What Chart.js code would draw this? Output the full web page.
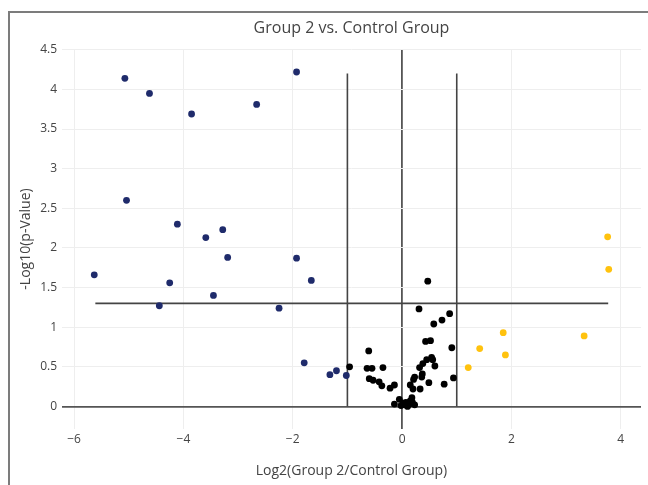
<!DOCTYPE html>
<html>
<head>
<meta charset="utf-8">
<script src="https://cdn.jsdelivr.net/npm/chart.js@4"></script>
<style>
  html, body { margin: 0; padding: 0; background: #fff; overflow: hidden; }
</style>
</head>
<body>
<canvas id="volcano" width="648" height="485"></canvas>
<script>
// down-regulated (navy)
const downX = [-5.07, -4.62, -3.85, -2.66, -1.93, -5.04, -4.11, -3.59, -3.28, -3.19, -1.93, -5.63, -4.25, -1.66, -3.45, -4.44, -2.25, -1.79, -1.32, -1.20, -1.02];
const downY = [4.14, 3.95, 3.69, 3.81, 4.22, 2.60, 2.30, 2.13, 2.23, 1.88, 1.87, 1.66, 1.56, 1.59, 1.40, 1.27, 1.24, 0.55, 0.40, 0.45, 0.39];

// not significant (black)
const nsX = [-0.96, 0.47, 0.31, 0.87, 0.73, 0.58, 0.43, 0.52, 0.91, -0.61, 0.45, 0.54, 0.56, 0.60, 0.38, 0.32, -0.64, -0.55, -0.35, 0.37, 0.23, 0.36, 0.21, 0.94, -0.60, -0.53, -0.42, -0.37, -0.22, -0.14, 0.15, 0.20, 0.33, 0.49, 0.77, -0.14, -0.05, -0.02, 0.07, 0.10, 0.15, 0.18, 0.23, 0.14, 0.02, 0.05, 0.19];
const nsY = [0.50, 1.58, 1.23, 1.17, 1.09, 1.04, 0.82, 0.83, 0.74, 0.70, 0.59, 0.62, 0.59, 0.51, 0.54, 0.49, 0.48, 0.48, 0.49, 0.41, 0.37, 0.37, 0.34, 0.36, 0.35, 0.33, 0.31, 0.26, 0.23, 0.27, 0.27, 0.22, 0.22, 0.30, 0.28, 0.03, 0.09, 0.01, 0.05, 0.00, 0.07, 0.11, 0.02, 0.03, 0.04, 0.02, 0.05];

// up-regulated (gold)
const upX = [1.21, 1.42, 1.85, 1.89, 3.33, 3.76, 3.78];
const upY = [0.49, 0.73, 0.93, 0.65, 0.89, 2.14, 1.73];

// threshold lines
const cutLeftX = [-1, -1];
const cutRightX = [1, 1];
const cutVertY = [0, 4.2];
const cutHorizX = [-5.61, 3.77];
const cutHorizY = [1.3, 1.3];

const xTicks = [-6, -4, -2, 0, 2, 4];
const yTicks = [0, 0.5, 1, 1.5, 2, 2.5, 3, 3.5, 4, 4.5];

const zip = (xs, ys) => xs.map((x, i) => ({ x: x, y: ys[i] }));
const fmt = v => String(v).replace('-', '\u2212');

// figure frame (left + top edges) and title over the plot area
const framePlugin = {
  id: 'frame',
  beforeDraw(chart) {
    const ctx = chart.ctx;
    ctx.save();
    ctx.strokeStyle = '#7c7c7c';
    ctx.lineWidth = 2;
    ctx.beginPath();
    ctx.moveTo(9, chart.height);
    ctx.lineTo(9, 12);
    ctx.lineTo(chart.width, 12);
    ctx.stroke();
    ctx.restore();
  },
  afterDraw(chart) {
    const { ctx, chartArea } = chart;
    ctx.save();
    ctx.font = '16px "Open Sans"';
    ctx.fillStyle = '#444';
    ctx.textAlign = 'center';
    ctx.textBaseline = 'middle';
    ctx.fillText('Group 2 vs. Control Group', (chartArea.left + chartArea.right) / 2, 28);
    ctx.restore();
  }
};

const pointStyle = color => ({
  backgroundColor: color,
  borderWidth: 0,
  pointRadius: 3.4,
  pointHoverRadius: 4
});

const lineStyle = {
  showLine: true,
  borderColor: '#444',
  borderWidth: 1.6,
  pointRadius: 0,
  pointHoverRadius: 0,
  order: 10
};

new Chart(document.getElementById('volcano').getContext('2d'), {
  type: 'scatter',
  data: {
    datasets: [
      { label: 'Down', data: zip(downX, downY), ...pointStyle('#1f2b6b') },
      { label: 'NS', data: zip(nsX, nsY), ...pointStyle('#000000') },
      { label: 'Up', data: zip(upX, upY), ...pointStyle('#ffc20e') },
      { label: 'FC -1', data: zip(cutLeftX, cutVertY), ...lineStyle },
      { label: 'FC 1', data: zip(cutRightX, cutVertY), ...lineStyle },
      { label: 'p 0.05', data: zip(cutHorizX, cutHorizY), ...lineStyle }
    ]
  },
  options: {
    responsive: false,
    animation: false,
    layout: { padding: { top: 49, right: 7, left: 0, bottom: 0 } },
    plugins: {
      legend: { display: false },
      title: { display: false }
    },
    scales: {
      x: {
        type: 'linear',
        min: -6.22,
        max: 4.37,
        afterBuildTicks: s => { s.ticks = xTicks.map(v => ({ value: v })); },
        afterFit: s => { s.height = 56; },
        border: { display: false },
        grid: {
          drawTicks: false,
          color: c => c.tick && c.tick.value === 0 ? '#555' : '#eeeeee',
          lineWidth: c => c.tick && c.tick.value === 0 ? 1.8 : 1
        },
        ticks: {
          padding: 3,
          color: '#444',
          font: { family: 'Open Sans', size: 12 },
          callback: v => fmt(v)
        },
        title: {
          display: true,
          text: 'Log2(Group 2/Control Group)',
          color: '#444',
          font: { family: 'Open Sans', size: 14 },
          padding: { top: 0, bottom: 6 }
        }
      },
      y: {
        type: 'linear',
        min: -0.285,
        max: 4.51,
        afterBuildTicks: s => { s.ticks = yTicks.map(v => ({ value: v })); },
        afterFit: s => { s.width = 62; },
        border: { display: false },
        grid: {
          drawTicks: false,
          color: c => c.tick && c.tick.value === 0 ? '#555' : '#eeeeee',
          lineWidth: c => c.tick && c.tick.value === 0 ? 1.8 : 1
        },
        ticks: {
          padding: 5,
          color: '#444',
          font: { family: 'Open Sans', size: 12 },
          callback: v => fmt(v)
        },
        title: {
          display: true,
          text: '-Log10(p-Value)',
          color: '#444',
          font: { family: 'Open Sans', size: 14 },
          padding: { top: 18, bottom: 0 }
        }
      }
    }
  },
  plugins: [framePlugin]
});
</script>
</body>
</html>
